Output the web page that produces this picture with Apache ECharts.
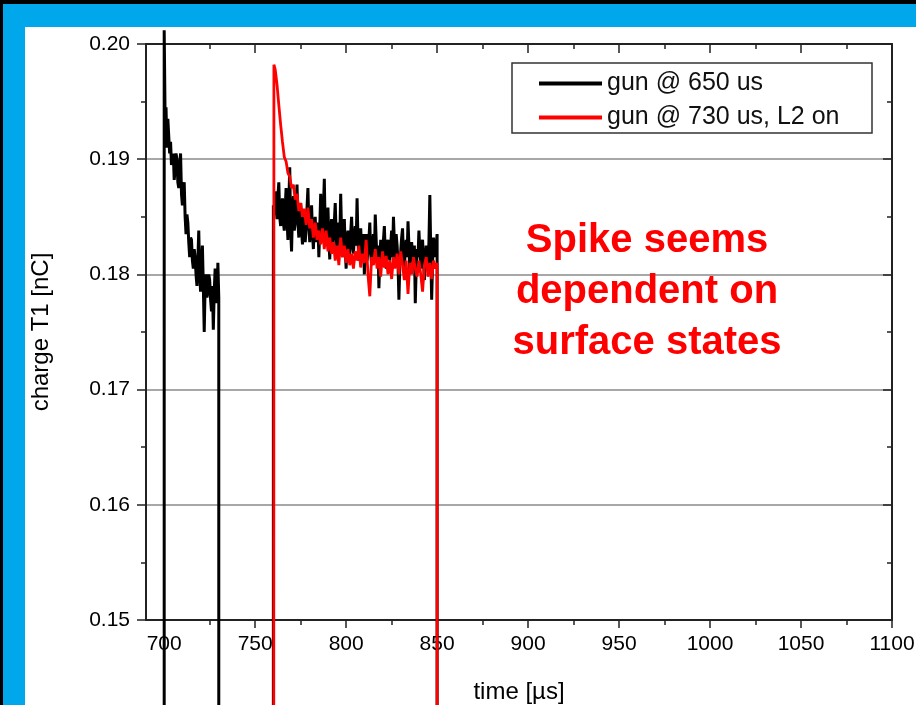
<!DOCTYPE html>
<html><head><meta charset="utf-8">
<script src="https://cdn.jsdelivr.net/npm/echarts@6/dist/echarts.min.js"></script>
<style>html,body{margin:0;padding:0;background:#000;}#c{width:916px;height:705px;}</style>
</head><body><div id="c"></div>
<script>
// ---- data ----
const seriesNames = ['gun @ 650 us', 'gun @ 730 us, L2 on'];
const beamOff = 0; // charge when no beam (off the plotted range)

// gun @ 650 us, first bunch train
const timeBlackA = [700, 700, 700.5, 701, 701.5, 702, 703, 703.5, 704, 705,
  705.5, 706, 706.5, 707, 707.5, 708, 708.5, 709, 709.5, 710, 710.5,
  711, 711.5, 712, 712.5, 713, 713.5, 714, 714.5, 715, 715.5, 716, 716.5, 717, 717.5, 718, 718.5,
  719, 719.5, 720, 720.5, 721, 721.5, 722, 722.5, 723, 723.5, 724, 724.5, 725, 725.5,
  726, 726.5, 727, 727.5, 728, 728.5, 729, 729.5, 730, 730];
const chargeBlackA = [beamOff, 0.2012, 0.1935, 0.1945, 0.1910, 0.1935, 0.1905, 0.1915, 0.1895, 0.1905,
  0.1882, 0.1890, 0.1905, 0.1900, 0.1880, 0.1875, 0.1895, 0.1905, 0.1870, 0.1860, 0.1872,
  0.1880, 0.1850, 0.1835, 0.1852, 0.1845, 0.1828, 0.1815, 0.1832, 0.1830, 0.1812, 0.1805, 0.1822, 0.1815, 0.1800, 0.1790, 0.1812,
  0.1838, 0.1800, 0.1785, 0.1810, 0.1825, 0.1790, 0.1750, 0.1790, 0.1800, 0.1780, 0.1785, 0.1800, 0.1795, 0.1778,
  0.1768, 0.1790, 0.1752, 0.1785, 0.1805, 0.1790, 0.1775, 0.1810, 0.1780, beamOff];

// gun @ 650 us, second part
const timeBlackB = [760, 760, 760.5,
  761,761.5,762,762.5,763,763.5,764,764.5,765,765.5,766,766.5,767,767.5,768,768.5,769,769.5,770,770.5,
  771,771.5,772,772.5,773,773.5,774,774.5,775,775.5,776,776.5,777,777.5,778,778.5,779,779.5,780,780.5,
  781,781.5,782,782.5,783,783.5,784,784.5,785,785.5,786,786.5,787,787.5,788,788.5,789,789.5,790,790.5,
  791,791.5,792,792.5,793,793.5,794,794.5,795,795.5,796,796.5,797,797.5,798,798.5,799,799.5,800,800.5,
  801,801.5,802,802.5,803,803.5,804,804.5,805,805.5,806,806.5,807,807.5,808,808.5,809,809.5,810,810.5,
  811,811.5,812,812.5,813,813.5,814,814.5,815,815.5,816,816.5,817,817.5,818,818.5,819,819.5,820,820.5,
  821,821.5,822,822.5,823,823.5,824,824.5,825,825.5,826,826.5,827,827.5,828,828.5,829,829.5,830,830.5,
  831,831.5,832,832.5,833,833.5,834,834.5,835,835.5,836,836.5,837,837.5,838,838.5,839,839.5,840,840.5,
  841,841.5,842,842.5,843,843.5,844,844.5,845,845.5,846,846.5,847,847.5,848,848.5,849,849.5,850, 850];
const chargeBlackB = [beamOff, 0.1860, 0.1852,
  0.1872,0.1858,0.1848,0.1868,0.1880,0.1850,0.1842,0.1860,0.1866,0.1845,0.1838,0.1858,0.1875,0.1848,0.1830,0.1862,0.1893,0.1840,0.1820,0.1855,
  0.1868,0.1838,0.1845,0.1860,0.1878,0.1845,0.1832,0.1850,0.1862,0.1838,0.1826,0.1848,0.1855,0.1828,0.1840,0.1858,0.1875,0.1842,0.1828,0.1848,
  0.1860,0.1836,0.1822,0.1842,0.1850,0.1828,0.1835,0.1845,0.1815,0.1840,0.1870,0.1845,0.1832,0.1856,0.1883,0.1838,0.1825,0.1842,0.1858,0.1830,
  0.1813,0.1838,0.1848,0.1822,0.1830,0.1845,0.1862,0.1835,0.1820,0.1838,0.1845,0.1828,0.1870,0.1835,0.1815,0.1832,0.1848,0.1822,0.1805,0.1830,
  0.1838,0.1812,0.1820,0.1836,0.1850,0.1825,0.1818,0.1832,0.1842,0.1825,0.1866,0.1830,0.1812,0.1828,0.1840,0.1822,0.1815,0.1835,0.1800,0.1822,
  0.1835,0.1812,0.1820,0.1830,0.1845,0.1818,0.1808,0.1828,0.1835,0.1815,0.1852,0.1830,0.1810,0.1825,0.1788,0.1812,0.1830,0.1822,0.1815,0.1830,
  0.1842,0.1818,0.1805,0.1825,0.1830,0.1820,0.1812,0.1826,0.1838,0.1815,0.1850,0.1828,0.1808,0.1835,0.1825,0.1810,0.1778,0.1808,0.1820,0.1832,
  0.1840,0.1815,0.1805,0.1822,0.1830,0.1815,0.1846,0.1825,0.1800,0.1818,0.1828,0.1815,0.1812,0.1825,0.1775,0.1805,0.1822,0.1815,0.1838,0.1820,
  0.1805,0.1825,0.1830,0.1812,0.1795,0.1815,0.1825,0.1808,0.1810,0.1828,0.1869,0.1820,0.1778,0.1810,0.1832,0.1820,0.1815,0.1826,0.1835, beamOff];

// gun @ 730 us, L2 on
const timeRed = [760, 760.3,
  761,762,763,764,765,766,767,768,769,770,771,772,773,774,775,776,777,778,779,780,
  781,782,783,784,785,786,787,788,789,790,791,792,793,794,795,796,797,798,799,800,
  801,802,803,804,805,806,807,808,809,810,811,812,813,814,815,816,817,818,819,820,
  821,822,823,824,825,826,827,828,829,830,831,832,833,834,835,836,837,838,839,840,
  841,842,843,844,845,846,847,848,849,850, 850];
const chargeRed = [beamOff, 0.1982,
  0.1978,0.1965,0.1947,0.1930,0.1915,0.1902,0.1898,0.1888,0.1885,0.1875,
  0.1878,0.1865,0.1870,0.1855,0.1862,0.1850,0.1857,0.1843,0.1858,0.1840,
  0.1848,0.1832,0.1845,0.1830,0.1838,0.1826,0.1840,0.1822,0.1838,0.1820,
  0.1832,0.1818,0.1828,0.1812,0.1825,0.1808,0.1832,0.1815,0.1825,0.1810,
  0.1822,0.1808,0.1818,0.1805,0.1820,0.1812,0.1825,0.1806,0.1818,0.1810,
  0.1830,0.1800,0.1781,0.1815,0.1808,0.1822,0.1805,0.1815,0.1798,0.1820,
  0.1806,0.1816,0.1800,0.1812,0.1796,0.1815,0.1805,0.1818,0.1800,0.1820,
  0.1808,0.1795,0.1812,0.1783,0.1810,0.1800,0.1815,0.1805,0.1798,0.1812,
  0.1800,0.1785,0.1808,0.1815,0.1798,0.1810,0.1796,0.1812,0.1805,0.1810, beamOff];

const xMajorTicks = [700, 750, 800, 850, 900, 950, 1000, 1050, 1100];
const xMinorTicks = [725, 775, 825, 875, 925, 975, 1025, 1075];
const annotation = 'Spike seems\ndependent on\nsurface states';

// ---- build ----
function pairs(t, q) { return t.map((v, i) => [v, q[i]]); }
const blackData = pairs(timeBlackA, chargeBlackA).concat(pairs(timeBlackB, chargeBlackB));
const redData = pairs(timeRed, chargeRed);

const F = '"Liberation Sans", Arial, sans-serif';
const AX = '#222';
const chart = echarts.init(document.getElementById('c'), null, {renderer: 'canvas'});

const baseX = {type: 'value', min: 690, max: 1100, gridIndex: 0, splitLine: {show: false}};
const baseY = {type: 'value', min: 0.15, max: 0.20, interval: 0.01, gridIndex: 0};

chart.setOption({
  backgroundColor: '#000',
  animation: false,
  textStyle: {fontFamily: F},
  grid: {left: 146, right: 24, top: 44, bottom: 85, containLabel: false, outerBoundsMode: 'none'},
  graphic: [
    {type: 'rect', z: -20, silent: true, shape: {x: 3, y: 4, width: 913, height: 701}, style: {fill: '#00a7eb'}},
    {type: 'rect', z: -19, silent: true, shape: {x: 25, y: 27, width: 891, height: 678}, style: {fill: '#ffffff'}},
    {type: 'rect', z: 5, silent: true, shape: {x: 512, y: 63, width: 360, height: 70},
      style: {fill: 'transparent', stroke: '#333', lineWidth: 1.5}},
    {type: 'text', z: 6, silent: true, x: 647, y: 215,
      style: {text: annotation, fill: '#ff0000', font: 'bold 40px "Liberation Sans", Arial, sans-serif',
        align: 'center', verticalAlign: 'top', lineHeight: 51}}
  ],
  legend: {
    left: 539, top: 71, orient: 'vertical', padding: 0, itemGap: 9,
    itemWidth: 63, itemHeight: 4,
    textStyle: {fontSize: 25, color: '#111', fontFamily: F},
    data: [{name: seriesNames[0], icon: 'rect'}, {name: seriesNames[1], icon: 'rect'}]
  },
  xAxis: [
    Object.assign({}, baseX, {
      position: 'bottom',
      axisLine: {show: true, lineStyle: {color: AX, width: 2}},
      axisTick: {show: true, customValues: xMajorTicks, length: 8, lineStyle: {color: AX, width: 1.5}},
      axisLabel: {show: true, customValues: xMajorTicks, formatter: v => String(v),
        fontSize: 21, color: '#000', margin: 14, fontFamily: F},
      name: 'time [µs]', nameLocation: 'middle', nameGap: 60,
      nameTextStyle: {fontSize: 24, color: '#000', fontFamily: F}
    }),
    Object.assign({}, baseX, {
      position: 'bottom',
      axisLine: {show: false},
      axisTick: {show: true, customValues: xMinorTicks, length: 5, lineStyle: {color: AX, width: 1.5}},
      axisLabel: {show: false}
    }),
    Object.assign({}, baseX, {
      position: 'top',
      axisLine: {show: true, lineStyle: {color: AX, width: 2}},
      axisTick: {show: true, inside: true, customValues: xMajorTicks, length: 9, lineStyle: {color: AX, width: 1.5}},
      axisLabel: {show: false}
    }),
    Object.assign({}, baseX, {
      position: 'top',
      axisLine: {show: false},
      axisTick: {show: true, inside: true, customValues: xMinorTicks, length: 5, lineStyle: {color: AX, width: 1.5}},
      axisLabel: {show: false}
    })
  ],
  yAxis: [
    Object.assign({}, baseY, {
      position: 'left',
      axisLine: {show: true, lineStyle: {color: AX, width: 2}},
      axisTick: {show: true, length: 9, lineStyle: {color: AX, width: 1.5}},
      minorTick: {show: true, splitNumber: 2, length: 5, lineStyle: {color: AX, width: 1.5}},
      axisLabel: {formatter: v => v.toFixed(2), fontSize: 21, color: '#000', margin: 16, fontFamily: F},
      splitLine: {show: true, lineStyle: {color: '#8a8a8a', width: 1.5}},
      name: 'charge T1 [nC]', nameLocation: 'middle', nameGap: 93, nameRotate: 90,
      nameTextStyle: {fontSize: 24, color: '#000', fontFamily: F}
    }),
    Object.assign({}, baseY, {
      position: 'right',
      axisLine: {show: true, lineStyle: {color: AX, width: 2}},
      axisTick: {show: true, inside: true, length: 9, lineStyle: {color: AX, width: 1.5}},
      minorTick: {show: true, splitNumber: 2, length: 5, lineStyle: {color: AX, width: 1.5}},
      axisLabel: {show: false},
      splitLine: {show: false}
    })
  ],
  series: [
    {type: 'line', name: seriesNames[0], xAxisIndex: 0, yAxisIndex: 0, data: blackData,
      symbol: 'none', clip: false, z: 3,
      lineStyle: {color: '#000', width: 3}, itemStyle: {color: '#000'}},
    {type: 'line', name: seriesNames[1], xAxisIndex: 0, yAxisIndex: 0, data: redData,
      symbol: 'none', clip: false, z: 4,
      lineStyle: {color: '#ff0000', width: 2.8}, itemStyle: {color: '#ff0000'}}
  ]
});
</script>
</body></html>
